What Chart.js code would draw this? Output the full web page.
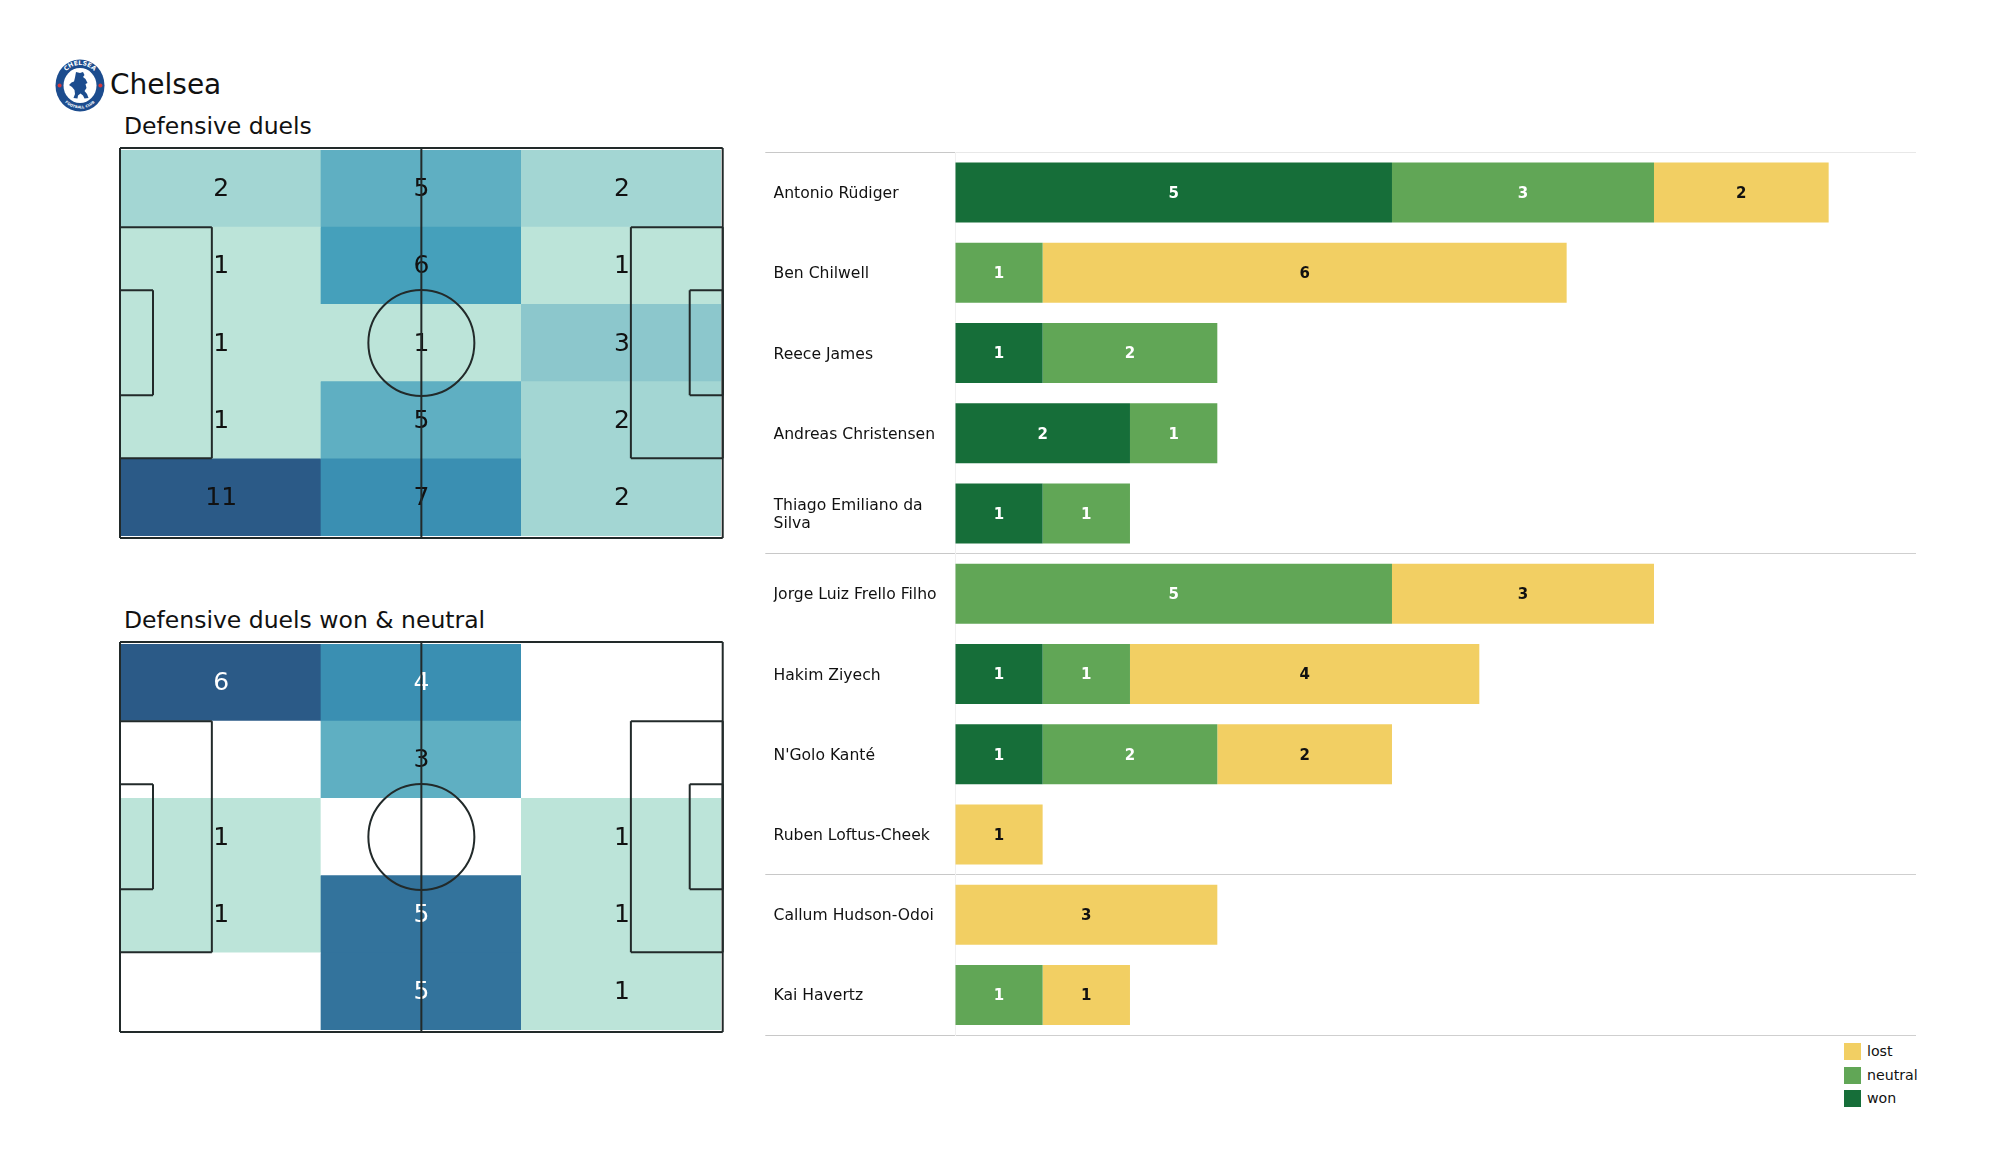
<!DOCTYPE html>
<html>
<head>
<meta charset="utf-8">
<title>Chelsea defensive duels</title>
<script src="https://cdn.jsdelivr.net/npm/chart.js@4"></script>
<style>
  html, body { margin: 0; padding: 0; background: #fff; }
  body { position: relative; width: 2000px; height: 1175px; overflow: hidden; font-family: "DejaVu Sans", sans-serif; color: #111; }
  canvas { position: absolute; }
  .label { position: absolute; white-space: nowrap; line-height: 1; }
  #crest { position: absolute; left: 55px; top: 59px; width: 50px; height: 53px; }
  .legend-row { position: absolute; left: 1844px; height: 17px; font-size: 14.2px; line-height: 17px; padding-left: 23px; }
  .legend-row i { position: absolute; left: 0; top: 0; width: 17px; height: 17px; }
</style>
</head>
<body>
<svg id="crest" viewBox="0 0 50 53">
  <defs>
    <path id="crestTop" d="M5.5 26.5 a19.5 20.5 0 0 1 39 0"/>
    <path id="crestBottom" d="M3.2 26.5 a21.8 23 0 0 0 43.6 0"/>
  </defs>
  <ellipse cx="25" cy="26.5" rx="24.5" ry="26" fill="#1c4c8e"/>
  <ellipse cx="25" cy="26.5" rx="16.5" ry="17.5" fill="#fff"/>
  <path d="M21 13 l4 1 l3 -1 l1.500 3 l-1.500 2 l2.500 2 l2 4 l-2 1 l1 4 l-2 3 l2.500 3 l1.500 4 l-4 0.500 l-1.500 -3 l-2.500 -2 l-2.500 2 l-0.500 3 l-4 -0.500 l1.500 -4 l-0.500 -4 l-2.500 -3 l-3 -2 l2.500 -2.500 l2.500 -1 l1 -4 z" fill="#1c4c8e"/>
  <circle cx="4.6" cy="26.5" r="2" fill="#d2373c"/>
  <circle cx="45.4" cy="26.5" r="2" fill="#d2373c"/>
  <text font-size="6.2" font-weight="bold" fill="#fff" font-family="DejaVu Sans" text-anchor="middle"><textPath href="#crestTop" startOffset="50%">CHELSEA</textPath></text>
  <text font-size="3.6" font-weight="bold" fill="#fff" font-family="DejaVu Sans" text-anchor="middle"><textPath href="#crestBottom" startOffset="50%">FOOTBALL CLUB</textPath></text>
</svg>
<div class="label" style="left:110px;top:71px;font-size:28px;">Chelsea</div>
<div class="label" style="left:124px;top:115px;font-size:23.5px;">Defensive duels</div>
<div class="label" style="left:124px;top:609px;font-size:23.5px;">Defensive duels won &amp; neutral</div>
<canvas id="pitchAll" width="625" height="410" style="left:110px;top:138px"></canvas>
<canvas id="pitchWon" width="625" height="410" style="left:110px;top:632px"></canvas>
<canvas id="players" width="1153" height="890" style="left:765px;top:148px"></canvas>
<div id="legend"></div>

<script>
// Heatmap counts, top row first, one array per pitch column
const allLeft = [2, 1, 1, 1, 11];
const allMiddle = [5, 6, 1, 5, 7];
const allRight = [2, 1, 3, 2, 2];
const wonLeft = [6, 0, 1, 1, 0];
const wonMiddle = [4, 3, 0, 5, 5];
const wonRight = [0, 0, 1, 1, 1];
const rows = ['r1', 'r2', 'r3', 'r4', 'r5'];

// Player bars
const players = ['Antonio Rüdiger', 'Ben Chilwell', 'Reece James', 'Andreas Christensen',
    ['Thiago Emiliano da', 'Silva'], 'Jorge Luiz Frello Filho', 'Hakim Ziyech', "N'Golo Kanté",
    'Ruben Loftus-Cheek', 'Callum Hudson-Odoi', 'Kai Havertz'];
const won = [5, 0, 1, 2, 1, 0, 1, 1, 0, 0, 0];
const neutral = [3, 1, 2, 1, 1, 5, 1, 2, 0, 0, 1];
const lost = [2, 6, 0, 0, 0, 3, 4, 2, 1, 3, 1];

const allColors = { 1: '#bce4d9', 2: '#a3d6d3', 3: '#8cc7cc', 5: '#5fafc2', 6: '#45a0bb', 7: '#3a8fb2', 11: '#2b5a87' };
const wonColors = { 0: '#ffffff', 1: '#bce4d9', 3: '#5fafc2', 4: '#3a8fb2', 5: '#33739c', 6: '#2b5a87' };

const FONT = '"DejaVu Sans", sans-serif';
const LINE = '#222a2a';

// Pitch markings, in metres on a 105 x 68 pitch. The heatmap cells stop a little inside the frame.
const pitchMarkings = {
    id: 'pitchMarkings',
    afterDatasetsDraw(chart) {
        const { ctx } = chart;
        const x = chart.scales.x;
        const y = chart.scales.yp;
        const line = (x1, y1, x2, y2) => {
            ctx.beginPath();
            ctx.moveTo(x.getPixelForValue(x1), y.getPixelForValue(y1));
            ctx.lineTo(x.getPixelForValue(x2), y.getPixelForValue(y2));
            ctx.stroke();
        };
        const box = (x1, y1, x2, y2) => {
            line(x1, y1, x2, y1);
            line(x2, y1, x2, y2);
            line(x2, y2, x1, y2);
            line(x1, y2, x1, y1);
        };
        ctx.save();
        ctx.strokeStyle = LINE;
        ctx.lineWidth = 2;
        box(0, 0, 105, 68);
        box(0, 13.8, 16, 54.1);
        box(105, 13.8, 89, 54.1);
        box(0, 24.8, 5.75, 43.1);
        box(105, 24.8, 99.25, 43.1);
        line(52.5, 0, 52.5, 68);
        ctx.beginPath();
        ctx.arc(x.getPixelForValue(52.5), y.getPixelForValue(34), 53, 0, Math.PI * 2);
        ctx.stroke();
        ctx.restore();
    }
};

// Count in the middle of each heatmap cell
const cellLabels = {
    id: 'cellLabels',
    afterDatasetsDraw(chart, args, opts) {
        const { ctx } = chart;
        ctx.save();
        ctx.font = '25px ' + FONT;
        ctx.textAlign = 'center';
        ctx.textBaseline = 'middle';
        chart.data.datasets.forEach((ds, d) => {
            chart.getDatasetMeta(d).data.forEach((bar, i) => {
                const v = ds.counts[i];
                if (!v) return;
                ctx.fillStyle = v >= opts.whiteFrom ? '#fff' : '#111';
                ctx.fillText(v, (bar.base + bar.x) / 2 + 1, bar.y + 1);
            });
        });
        ctx.restore();
    }
};

function makePitch(id, columns, colors, whiteFrom) {
    const edges = [0, 34.9, 69.8, 104.7];
    new Chart(document.getElementById(id), {
        type: 'bar',
        data: {
            labels: rows,
            datasets: columns.map((counts, c) => ({
                counts: counts,
                data: counts.map(() => [edges[c], edges[c + 1]]),
                backgroundColor: counts.map(v => colors[v]),
                barPercentage: 1,
                categoryPercentage: 1,
                grouped: false
            }))
        },
        options: {
            indexAxis: 'y',
            responsive: false,
            animation: false,
            events: [],
            layout: { padding: { left: 10, right: 14, top: 12, bottom: 12 } },
            scales: {
                x: { type: 'linear', min: 0, max: 104.7, display: false },
                y: { type: 'category', display: false },
                yp: { type: 'linear', axis: 'y', min: 0.35, max: 67.65, reverse: true, offset: false, display: false }
            },
            plugins: { legend: { display: false }, tooltip: { enabled: false }, cellLabels: { whiteFrom: whiteFrom } }
        },
        plugins: [cellLabels, pitchMarkings]
    });
}

makePitch('pitchAll', [allLeft, allMiddle, allRight], allColors, Infinity);
makePitch('pitchWon', [wonLeft, wonMiddle, wonRight], wonColors, 4);

// Bold values centred in each bar segment
const barLabels = {
    id: 'barLabels',
    afterDatasetsDraw(chart) {
        const { ctx } = chart;
        ctx.save();
        ctx.font = 'bold 15px ' + FONT;
        ctx.textAlign = 'center';
        ctx.textBaseline = 'middle';
        chart.data.datasets.forEach((ds, d) => {
            chart.getDatasetMeta(d).data.forEach((bar, i) => {
                if (!ds.data[i]) return;
                ctx.fillStyle = ds.labelColor;
                ctx.fillText(ds.data[i], (bar.base + bar.x) / 2, bar.y + 1.5);
            });
        });
        ctx.restore();
    }
};

// Nudge the player names down a little so they sit level with the bar values
const nudgeTicks = {
    id: 'nudgeTicks',
    afterUpdate(chart) {
        chart.scales.y.getLabelItems().forEach(item => { item.options.translation[1] += 1.5; });
    }
};

// Stronger rule at the end of each position group, the top rule only fades over the bars
const groupEnds = [5, 9];
const isGroupRule = ctx => ctx.index === undefined || groupEnds.includes(ctx.index);

const playerChart = new Chart(document.getElementById('players'), {
    type: 'bar',
    data: {
        labels: players,
        datasets: [
            { label: 'won', data: won, backgroundColor: '#166e39', labelColor: '#fff' },
            { label: 'neutral', data: neutral, backgroundColor: '#61a656', labelColor: '#fff' },
            { label: 'lost', data: lost, backgroundColor: '#f2cf63', labelColor: '#111' }
        ]
    },
    options: {
        indexAxis: 'y',
        responsive: false,
        animation: false,
        events: [],
        barPercentage: 0.748,
        categoryPercentage: 1,
        layout: { padding: { left: 8.5, right: 2, top: 4.5, bottom: 3 } },
        scales: {
            x: { stacked: true, min: 0, max: 11, display: false },
            y: {
                stacked: true,
                // keep the row bands flush with the rules, labels may overhang
                afterFit(axis) { axis.width = 181.8; axis.paddingTop = 0; axis.paddingBottom = 0; },
                ticks: { crossAlign: 'far', color: '#111', font: { family: FONT, size: 15.6 }, padding: 0 },
                border: { color: '#f0f0f0' },
                grid: {
                    offset: true,
                    tickLength: 190,
                    tickColor: ctx => (ctx.index === 0 || isGroupRule(ctx) ? '#c8c8c8' : 'rgba(0,0,0,0)'),
                    color: ctx => (ctx.index === 0 ? '#e8e8e8' : isGroupRule(ctx) ? '#cfcfcf' : 'rgba(0,0,0,0)')
                }
            }
        },
        plugins: { legend: { display: false }, tooltip: { enabled: false } }
    },
    plugins: [barLabels, nudgeTicks]
});

// Legend, highest stack first
const legendEl = document.getElementById('legend');
playerChart.data.datasets.slice().reverse().forEach((ds, i) => {
    const row = document.createElement('div');
    row.className = 'legend-row';
    row.style.top = (1043 + i * 23.5) + 'px';
    row.innerHTML = '<i style="background:' + ds.backgroundColor + '"></i>' + ds.label;
    legendEl.appendChild(row);
});
</script>
</body>
</html>
